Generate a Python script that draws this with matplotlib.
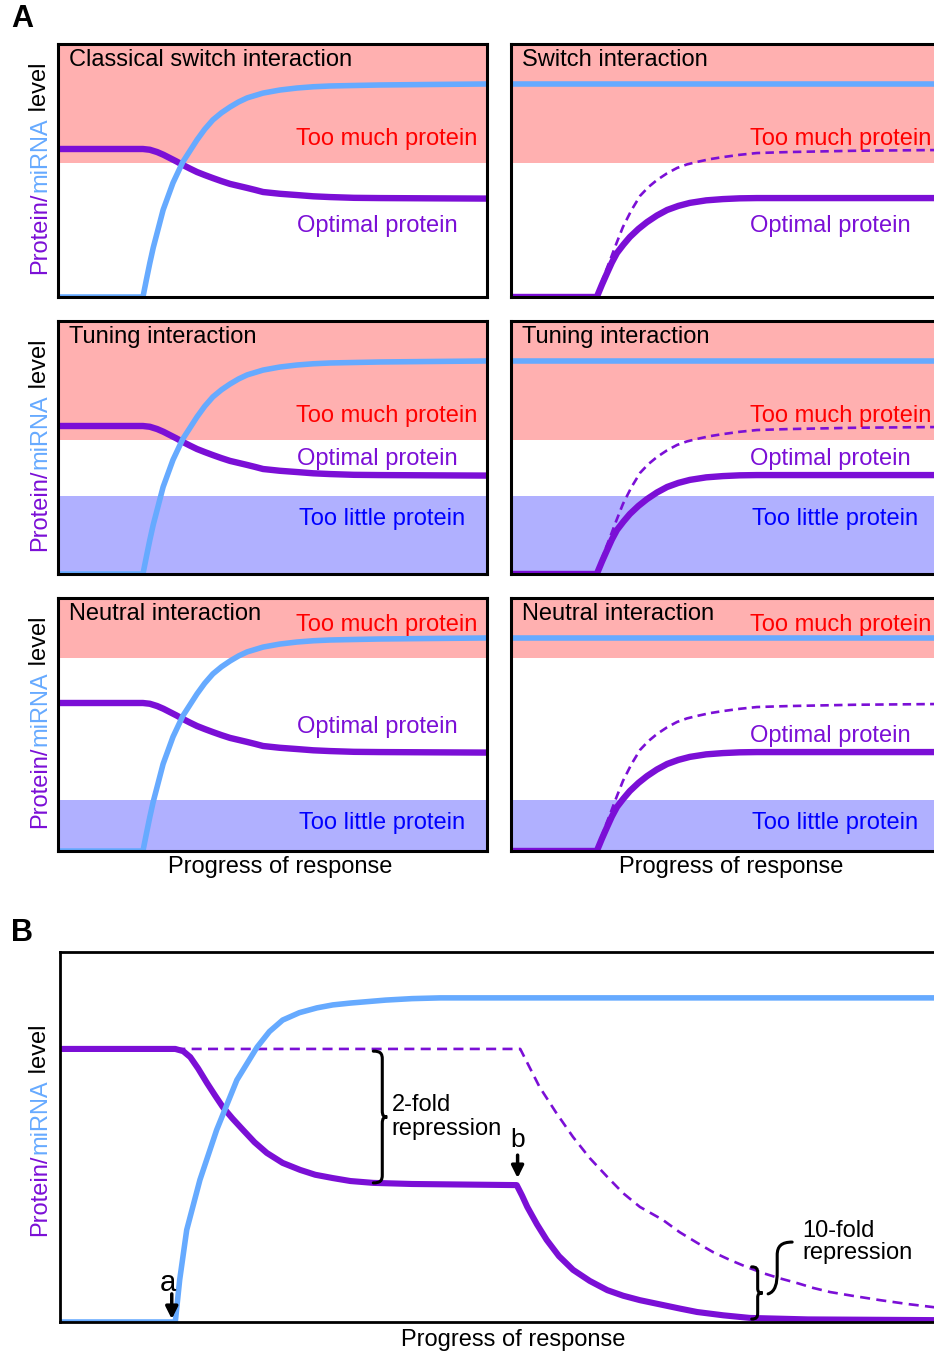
import matplotlib
matplotlib.use('Agg')
import matplotlib.pyplot as plt
from matplotlib.path import Path
from matplotlib.patches import PathPatch

plt.rcParams['font.family'] = ['Liberation Sans', 'DejaVu Sans']

PURPLE = '#7b0fd6'
MIRNA = '#66aaff'
PINK = '#ffb0b0'
LILAC = '#b0b0ff'
FS = 17

W, H = 934, 1353

# ---- panel A data (x: progress 0-100, y: level 0-100) ----
# left column: miRNA rises and represses the protein
mirna_x = [0, 19.8, 20.6, 21.4, 22.2, 23.1, 24.5, 26.8, 29.1, 32.4, 34.2, 36.1, 38.1, 40.1,
           42.1, 44.1, 47.8, 51.7, 55.7, 59.5, 63.4, 69.0, 75.1, 87.0, 100]
mirna_y = [0, 0, 6.8, 13.4, 19.5, 25.3, 34.4, 45.1, 53.4, 62.1, 66.3, 70.0, 72.8, 75.1,
           77.1, 78.7, 80.6, 81.8, 82.6, 83.1, 83.4, 83.6, 83.8, 84.0, 84.2]
prot_x = [0, 19.8, 21.4, 23.1, 24.6, 26.1, 27.6, 29.1, 30.7, 32.4, 34.2, 36.1, 38.1, 40.1,
          42.1, 44.1, 46.0, 47.8, 51.7, 55.7, 59.5, 63.4, 69.0, 75.1, 87.0, 100]
prot_y = [58.5, 58.5, 58.2, 57.3, 56.2, 54.9, 53.6, 52.2, 50.8, 49.4, 48.2, 47.0, 45.8, 44.7,
          43.9, 43.1, 42.3, 41.5, 40.8, 40.3, 39.8, 39.5, 39.2, 39.1, 39.0, 38.9]

# right column: miRNA constant, protein induced with (solid) / without (dashed) miRNA
mirna_const = 84.2
ind_x = [0, 20.0, 21.2, 22.4, 23.5, 24.7, 26.2, 27.7, 29.7, 31.7, 34.0, 36.4, 39.0, 41.7,
         45.5, 49.4, 53.3, 57.3, 65.0, 100]
ind_y = [0, 0, 4.9, 9.5, 13.6, 17.4, 20.7, 23.7, 26.9, 29.6, 32.2, 34.4, 36.0, 37.2,
         38.2, 38.7, 39.0, 39.1, 39.1, 39.1]
nomir_x = [20.0, 20.7, 21.9, 23.1, 24.6, 26.1, 28.1, 30.1, 32.0, 34.0, 36.3, 38.7, 41.0,
           43.4, 46.4, 49.4, 53.3, 57.3, 61.0, 65.0, 80.0, 100]
nomir_y = [0, 4.0, 9.4, 14.6, 21.3, 27.7, 34.4, 40.0, 43.4, 46.2, 48.8, 51.0, 52.4,
           53.4, 54.5, 55.3, 56.2, 56.9, 57.1, 57.3, 57.8, 58.1]

row_titles = [('Classical switch interaction', 'Switch interaction'),
              ('Tuning interaction', 'Tuning interaction'),
              ('Neutral interaction', 'Neutral interaction')]
too_much_lo = [53.0, 53.0, 76.3]
too_little_hi = [None, 30.8, 20.2]
too_much_pos = [0.624, 0.624, 0.893]
optimal_pos = [(0.281, 0.281), (0.454, 0.454), (0.490, 0.454)]
too_little_pos = [None, 0.217, 0.111]

# ---- panel B data ----
b_mirna_x = [0, 13.1, 13.6, 14.4, 15.9, 17.8, 20.1, 22.4, 23.8, 25.3, 27.2, 29.2, 31.0,
             33.0, 37.0, 40.0, 43.2, 100]
b_mirna_y = [0, 0, 11.4, 24.9, 38.4, 51.9, 65.4, 74.3, 78.5, 81.6, 83.6, 84.9, 85.7,
             86.2, 87.0, 87.4, 87.6, 87.6]
b_prot_x = [0, 13.1, 14.0, 14.8, 15.7, 16.7, 17.6, 18.5, 19.6, 20.8, 22.1, 23.5, 25.3,
            27.3, 29.0, 31.0, 33.0, 35.6, 40.0, 51.9, 52.5, 53.1, 54.2, 55.3, 56.7, 58.3,
            60.2, 62.2, 64.0, 65.9, 68.5, 70.5, 72.4, 75.4, 78.4, 85.0, 100]
b_prot_y = [73.8, 73.8, 73.2, 71.6, 68.5, 64.6, 61.3, 58.1, 55.0, 51.9, 48.6, 45.7, 43.0,
            41.1, 39.8, 38.9, 38.1, 37.6, 37.3, 37.0, 34.2, 31.1, 26.4, 22.2, 17.8, 14.1,
            11.1, 8.6, 7.1, 5.9, 4.6, 3.6, 2.7, 1.8, 1.1, 0.7, 0.5]
b_ctrl_x = [13.1, 52.3, 54.5, 56.4, 58.3, 60.2, 62.2, 64.0, 65.9, 68.5, 70.4, 72.4, 74.2,
            76.1, 78.0, 79.9, 81.8, 83.8, 85.6, 87.5, 90.0, 93.2, 96.5, 100]
b_ctrl_y = [73.8, 73.8, 63.5, 56.5, 50.0, 44.3, 39.2, 34.8, 31.1, 27.6, 24.3, 21.4, 18.9,
            16.8, 14.9, 13.2, 11.8, 10.5, 9.2, 8.1, 7.1, 5.9, 4.8, 3.8]


def px_ax(fig, left, top, width, height):
    return fig.add_axes([left / W, 1 - (top + height) / H, width / W, height / H])


def style_ax(ax, lw=2.2):
    ax.set_xlim(0, 100)
    ax.set_ylim(0, 100)
    ax.set_xticks([])
    ax.set_yticks([])
    for s in ax.spines.values():
        s.set_linewidth(lw)


def ylabel_colored(fig, xpx, ypx):
    parts = [('Protein/', PURPLE), ('miRNA', MIRNA), (' level', 'black')]
    r = fig.canvas.get_renderer()
    texts = [fig.text(xpx / W, 0, s, color=c, rotation=90, ha='center', va='bottom',
                      fontsize=FS) for s, c in parts]
    hs = [t.get_window_extent(r).height for t in texts]
    y = (H - ypx) - sum(hs) / 2
    for t, h in zip(texts, hs):
        t.set_position((xpx / W, y / H))
        y += h


def brace(ax, x, ytop, ybot, e, t, c, lw=2.2):
    # e, t in x data units, c in y data units
    xm = x + e
    ym = (ytop + ybot) / 2
    verts = [(x, ytop), (x + e * 0.8, ytop), (xm, ytop - c * 0.3), (xm, ytop - c),
             (xm, ym + c * 0.8),
             (xm, ym + c * 0.15), (xm + t * 0.3, ym), (xm + t, ym),
             (xm + t * 0.3, ym), (xm, ym - c * 0.15), (xm, ym - c * 0.8),
             (xm, ybot + c),
             (xm, ybot + c * 0.3), (x + e * 0.8, ybot), (x, ybot)]
    codes = [Path.MOVETO, Path.CURVE4, Path.CURVE4, Path.CURVE4, Path.LINETO,
             Path.CURVE4, Path.CURVE4, Path.CURVE4, Path.CURVE4, Path.CURVE4, Path.CURVE4,
             Path.LINETO, Path.CURVE4, Path.CURVE4, Path.CURVE4]
    ax.add_patch(PathPatch(Path(verts, codes), fc='none', ec='k', lw=lw,
                           capstyle='round', clip_on=False, zorder=5))


fig = plt.figure(figsize=(W / 100, H / 100), dpi=100)

tops = [44, 321, 598]
lefts = [58, 511]
for i, top in enumerate(tops):
    for j, left in enumerate(lefts):
        ax = px_ax(fig, left, top, 429, 253)
        style_ax(ax)
        ax.axhspan(too_much_lo[i], 100, color=PINK, lw=0, zorder=0)
        if too_little_hi[i] is not None:
            ax.axhspan(0, too_little_hi[i], color=LILAC, lw=0, zorder=0)
        if j == 0:
            ax.plot(prot_x, prot_y, color=PURPLE, lw=4.6, solid_capstyle='butt',
                    solid_joinstyle='round')
            ax.plot(mirna_x, mirna_y, color=MIRNA, lw=4.0, solid_capstyle='butt',
                    solid_joinstyle='round')
        else:
            ax.axhline(mirna_const, color=MIRNA, lw=4.0)
            ax.plot(nomir_x, nomir_y, color=PURPLE, lw=1.9, ls=(0, (3.2, 2.0)))
            ax.plot(ind_x, ind_y, color=PURPLE, lw=4.6, solid_capstyle='butt',
                    solid_joinstyle='round')
        ax.text(0.026, 0.937, row_titles[i][j], transform=ax.transAxes, fontsize=FS,
                ha='left', va='center', color='black')
        if j == 0:
            ax.text(0.977, too_much_pos[i], 'Too much protein', transform=ax.transAxes,
                    fontsize=FS, ha='right', va='center', color='red')
        else:
            ax.text(0.557, too_much_pos[i], 'Too much protein', transform=ax.transAxes,
                    fontsize=FS, ha='left', va='center', color='red')
        ax.text(0.557, optimal_pos[i][j], 'Optimal protein', transform=ax.transAxes,
                fontsize=FS, ha='left', va='center', color=PURPLE)
        if too_little_pos[i] is not None:
            ax.text(0.562, too_little_pos[i], 'Too little protein', transform=ax.transAxes,
                    fontsize=FS, ha='left', va='center', color='blue')
    ylabel_colored(fig, 40, top + 124)

fig.text(280 / W, 1 - 867 / H, 'Progress of response', fontsize=FS, ha='center', va='center')
fig.text(731 / W, 1 - 867 / H, 'Progress of response', fontsize=FS, ha='center', va='center')
fig.text(11 / W, 1 - 19 / H, 'A', fontsize=22, fontweight='bold', ha='left', va='center')

# ---- panel B ----
axb = px_ax(fig, 60, 952, 880, 370)
style_ax(axb, lw=2.0)
axb.plot(b_ctrl_x, b_ctrl_y, color=PURPLE, lw=1.9, ls=(0, (3.8, 2.4)))
axb.plot(b_prot_x, b_prot_y, color=PURPLE, lw=4.4, solid_capstyle='butt',
         solid_joinstyle='round')
axb.plot(b_mirna_x, b_mirna_y, color=MIRNA, lw=4.0, solid_capstyle='butt',
         solid_joinstyle='round')

sx, sy = 1 / 8.8, 1 / 3.7
brace(axb, 35.6, 73.2, 37.6, 9 * sx, 5 * sx, 8 * sy)
brace(axb, 78.6, 14.9, 0.8, 6 * sx, 5 * sx, 6 * sy)
tail = Path([(79.9 + 5 * sx, 7.6), (81.3, 8.2), (81.5, 10.5), (81.5, 13.5),
             (81.5, 18.1),
             (81.5, 20.5), (82.0, 21.6), (83.2, 21.6)],
            [Path.MOVETO, Path.CURVE4, Path.CURVE4, Path.CURVE4, Path.LINETO,
             Path.CURVE4, Path.CURVE4, Path.CURVE4])
axb.add_patch(PathPatch(tail, fc='none', ec='k', lw=2.2, capstyle='round', zorder=5))

axb.text(37.7, 55.4, '2-fold\nrepression', fontsize=FS, ha='left', va='center',
         linespacing=1.08)
axb.text(84.4, 21.6, '10-fold\nrepression', fontsize=FS, ha='left', va='center',
         linespacing=1.02)

arrow = dict(arrowstyle='-|>', color='k', lw=2.5, mutation_scale=18, shrinkA=0, shrinkB=0)
axb.annotate('', xy=(12.7, 0.8), xytext=(12.7, 7.6), arrowprops=arrow)
axb.text(12.3, 10.5, 'a', fontsize=21, ha='center', va='center')
axb.annotate('', xy=(52.0, 38.9), xytext=(52.0, 45.1), arrowprops=arrow)
axb.text(52.0, 49.2, 'b', fontsize=19, ha='center', va='center')

ylabel_colored(fig, 40, 1130)
fig.text(513 / W, 1 - 1340 / H, 'Progress of response', fontsize=FS, ha='center', va='center')
fig.text(11 / W, 1 - 933 / H, 'B', fontsize=22, fontweight='bold', ha='left', va='center')

fig.savefig('out.png', dpi=100)
